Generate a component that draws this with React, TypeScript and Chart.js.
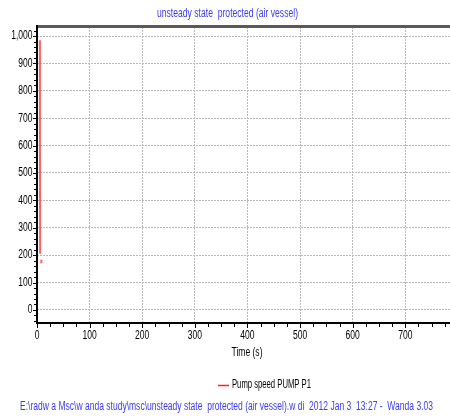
import React, { useEffect, useRef } from "react";
import { Chart, registerables } from "chart.js";

Chart.register(...registerables);

const titleText = "unsteady state  protected (air vessel)";
const footerText =
  "E:\\radw a Msc\\w anda study\\msc\\unsteady state  protected (air vessel).w di  2012 Jan 3  13:27 -  Wanda 3.03";
const xAxisTitle = "Time (s)";
const seriesLabel = "Pump speed PUMP P1";

const timeValues: number[] = [5.5, 5.6, 6.0, 7.0, 8.2, 8.3];
const speedValues: (number | null)[] = [985, 600, 205, null, 183, 170];

const xTickValues = [0, 100, 200, 300, 400, 500, 600, 700];
const yTickValues = [0, 100, 200, 300, 400, 500, 600, 700, 800, 900, 1000];

const FONT = "'Liberation Sans', Arial, sans-serif";
const FONT_SIZE = 12;

function fitText(ctx: any, text: string, x: number, y: number, align: string, targetWidth: number | null, factor: number) {
  ctx.save();
  const w = ctx.measureText(text).width;
  const f = targetWidth ? targetWidth / w : factor;
  let ox = 0;
  if (align === "center") ox = -(w * f) / 2;
  else if (align === "right") ox = -w * f;
  ctx.translate(x + ox, y);
  ctx.scale(f, 1);
  ctx.textAlign = "left";
  ctx.fillText(text, 0, 0);
  ctx.restore();
}

const decorPlugin = {
  id: "decor",
  beforeDatasetsDraw(chart: any) {
    const { ctx, chartArea } = chart;
    ctx.save();
    ctx.fillStyle = "#5a5a5a";
    ctx.fillRect(chartArea.left, chartArea.top - 2, chartArea.right - chartArea.left, 3);
    ctx.restore();
  },
  afterDraw(chart: any) {
    const { ctx, chartArea, scales } = chart;
    const xs = scales.x;
    const ys = scales.y;
    ctx.save();
    ctx.font = `${FONT_SIZE}px ${FONT}`;
    ctx.textBaseline = "middle";
    const fw = ctx.measureText(footerText).width;
    const factor = 413 / fw;
    // axes
    ctx.strokeStyle = "#000";
    ctx.lineWidth = 2;
    ctx.beginPath();
    ctx.moveTo(chartArea.left, chartArea.top - 2);
    ctx.lineTo(chartArea.left, chartArea.bottom + 1);
    ctx.lineTo(chartArea.right, chartArea.bottom + 1);
    ctx.stroke();
    // ticks
    ctx.lineWidth = 1;
    for (let v = 0; v <= xs.max; v += 25) {
      const px = Math.round(xs.getPixelForValue(v)) + 0.5;
      const len = v % 100 === 0 ? 5 : 4;
      ctx.beginPath();
      ctx.moveTo(px, chartArea.bottom + 1);
      ctx.lineTo(px, chartArea.bottom + 1 + len);
      ctx.stroke();
    }
    for (let v = -40; v <= ys.max; v += 20) {
      const py = Math.round(ys.getPixelForValue(v)) + 0.5;
      const len = v % 100 === 0 ? 4 : 3;
      ctx.beginPath();
      ctx.moveTo(chartArea.left, py);
      ctx.lineTo(chartArea.left - len, py);
      ctx.stroke();
    }
    // tick labels
    ctx.fillStyle = "#000";
    xTickValues.forEach((v) => {
      fitText(ctx, String(v), xs.getPixelForValue(v), 336, "center", null, factor);
    });
    yTickValues.forEach((v) => {
      fitText(ctx, v.toLocaleString("en-US"), chartArea.left - 4.5, ys.getPixelForValue(v), "right", null, factor);
    });
    // title
    ctx.fillStyle = "#3b3bf0";
    fitText(ctx, titleText, 227.5, 14, "center", 141, factor);
    // x axis title
    ctx.fillStyle = "#000";
    fitText(ctx, xAxisTitle, 247, 353, "center", null, factor);
    // legend
    ctx.strokeStyle = "#ff2020";
    ctx.lineWidth = 1.5;
    ctx.beginPath();
    ctx.moveTo(218, 385.5);
    ctx.lineTo(229, 385.5);
    ctx.stroke();
    ctx.fillStyle = "#000";
    fitText(ctx, seriesLabel, 232, 385, "left", 79, factor);
    // footer
    ctx.fillStyle = "#3b3bf0";
    fitText(ctx, footerText, 226.5, 407, "center", 413, factor);
    ctx.restore();
  },
};

export default function App() {
  const canvasRef = useRef<HTMLCanvasElement | null>(null);

  useEffect(() => {
    if (!canvasRef.current) return;
    const points = timeValues.map((t, i) => ({ x: t, y: speedValues[i] }));
    const chart = new Chart(canvasRef.current, {
      type: "line",
      data: {
        datasets: [
          {
            label: seriesLabel,
            data: points as any,
            borderColor: "rgba(255,70,70,0.85)",
            borderWidth: 2,
            pointRadius: 0,
            spanGaps: false,
            tension: 0,
          },
        ],
      },
      plugins: [decorPlugin],
      options: {
        animation: false,
        responsive: false,
        maintainAspectRatio: false,
        layout: { padding: { top: 27, right: 0, left: 0, bottom: 0 } },
        plugins: {
          legend: { display: false },
          title: { display: false },
          tooltip: { enabled: false },
        },
        scales: {
          x: {
            type: "linear",
            min: 0,
            max: 785,
            afterBuildTicks: (s: any) => {
              s.ticks = xTickValues.map((v) => ({ value: v }));
            },
            afterFit: (s: any) => {
              s.height = 95;
            },
            ticks: { display: false },
            grid: {
              color: "#b8b8b8",
              lineWidth: 1,
              drawTicks: false,
            },
            border: { display: false, dash: [2, 1] },
          },
          y: {
            type: "linear",
            min: -44,
            max: 1033,
            afterBuildTicks: (s: any) => {
              s.ticks = yTickValues.map((v) => ({ value: v }));
            },
            afterFit: (s: any) => {
              s.width = 37;
            },
            ticks: { display: false },
            grid: {
              color: "#b8b8b8",
              lineWidth: 1,
              drawTicks: false,
            },
            border: { display: false, dash: [2, 1] },
          },
        },
      },
    });
    return () => chart.destroy();
  }, []);

  return (
    <div style={{ position: "fixed", left: 0, top: 0, width: 450, height: 417, background: "#fff" }}>
      <canvas ref={canvasRef} width={450} height={417} style={{ width: 450, height: 417 }} />
    </div>
  );
}
